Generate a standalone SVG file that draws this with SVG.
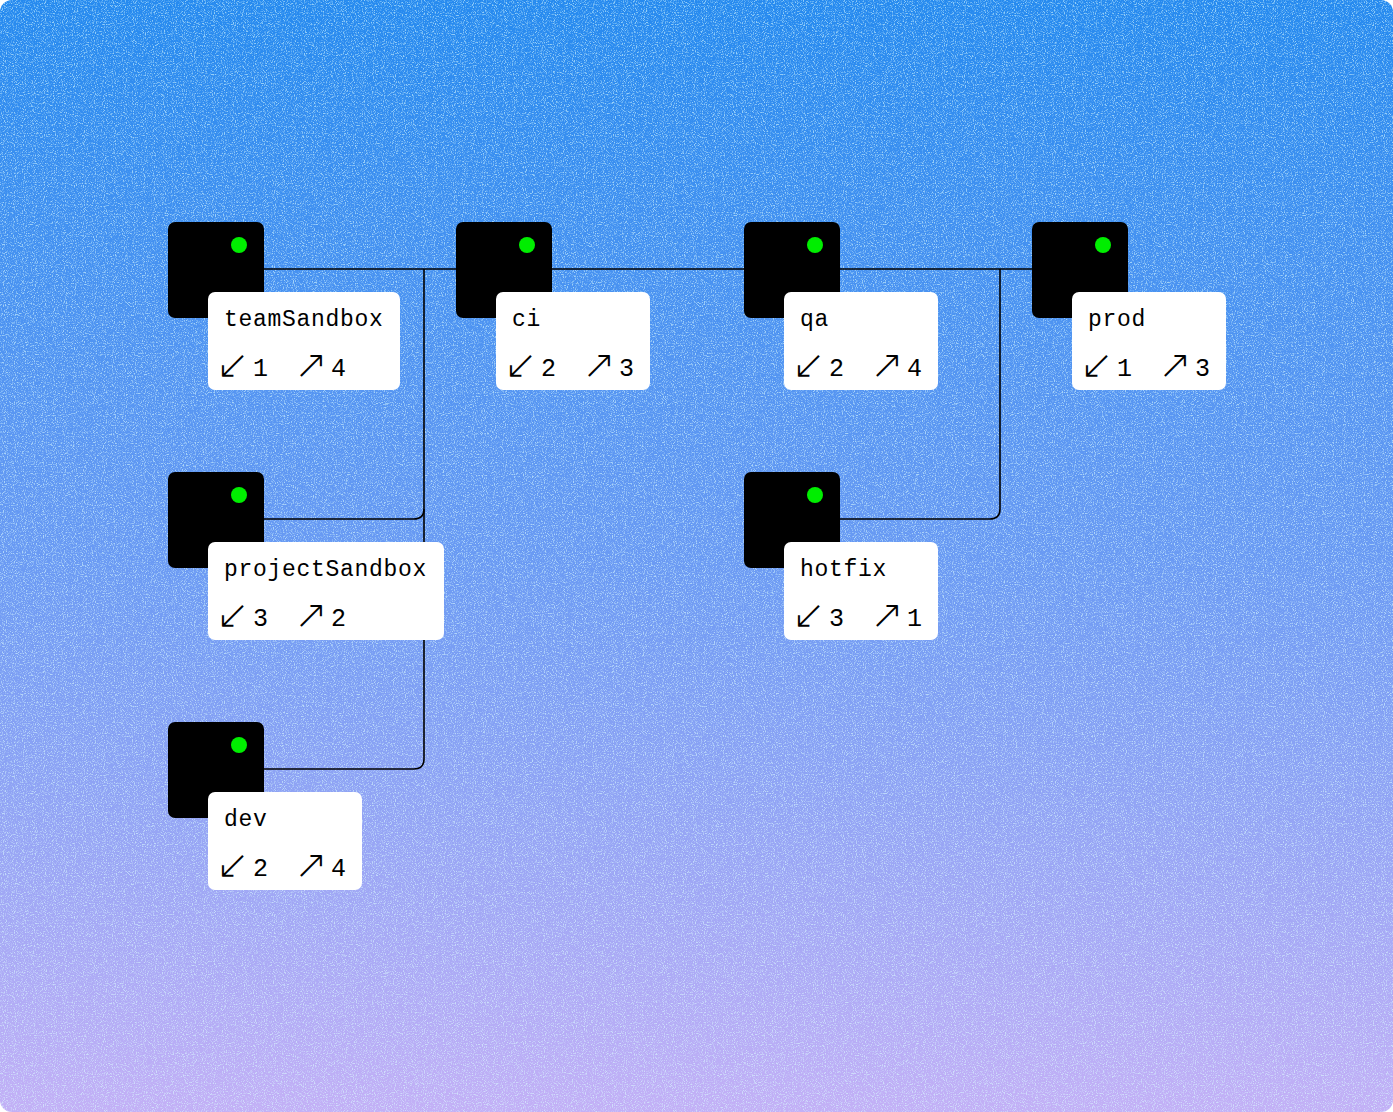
<svg xmlns="http://www.w3.org/2000/svg" width="1393" height="1112" viewBox="0 0 1393 1112">
<defs>
<linearGradient id="bg" x1="0" y1="0" x2="0" y2="1">
<stop offset="0" stop-color="#268aef"/>
<stop offset="0.5" stop-color="#6a9af3"/>
<stop offset="1" stop-color="#c3b0f6"/>
</linearGradient>
<filter id="noise" x="0" y="0" width="100%" height="100%">
<feTurbulence type="fractalNoise" baseFrequency="0.9" numOctaves="2" seed="4" result="t"/>
<feColorMatrix in="t" type="matrix" values="0 0 0 0 0.7  0 0 0 0 0.97  0 0 0 0 1  4 0 0 0 -2.0"/>
</filter>
<clipPath id="clip"><rect x="0" y="0" width="1393" height="1112" rx="12"/></clipPath>
</defs>
<style>
.sq{fill:#000}
.dot{fill:#00ee00}
.card{fill:#fff}
.name{font-family:"Liberation Mono","DejaVu Sans Mono",monospace;font-size:23px;letter-spacing:0.7px;fill:#000}
.num{font-family:"Liberation Mono","DejaVu Sans Mono",monospace;font-size:25px;fill:#000}
.arr{font-family:"DejaVu Sans","Liberation Sans",sans-serif;font-size:40px;font-weight:200;fill:#000}
.conn{fill:none;stroke:#000;stroke-width:1.6}
</style>
<rect x="0" y="0" width="1393" height="1112" fill="#fff"/>
<g clip-path="url(#clip)">
<rect x="0" y="0" width="1393" height="1112" fill="url(#bg)"/>
<rect x="0" y="0" width="1393" height="1112" filter="url(#noise)" opacity="0.6"/>
</g>
<g id="connectors">
<path class="conn" d="M263 269 H1032"/>
<path class="conn" d="M424 269 V759 Q424 769 414 769 H263"/>
<path class="conn" d="M424 509 Q424 519 414 519 H263"/>
<path class="conn" d="M1000 269 V509 Q1000 519 990 519 H839"/>
</g>
<g id="node-teamSandbox" transform="translate(168,222)">
<rect class="sq" width="96" height="96" rx="7"/>
<circle class="dot" cx="71" cy="23" r="8"/>
<rect class="card" x="40" y="70" width="192" height="98" rx="7"/>
<text class="name" x="56" y="104">teamSandbox</text>
<text class="arr" x="48" y="156">↙</text><text class="num" x="85" y="154">1</text>
<text class="arr" x="126" y="156">↗</text><text class="num" x="163" y="154">4</text>
</g>
<g id="node-ci" transform="translate(456,222)">
<rect class="sq" width="96" height="96" rx="7"/>
<circle class="dot" cx="71" cy="23" r="8"/>
<rect class="card" x="40" y="70" width="154" height="98" rx="7"/>
<text class="name" x="56" y="104">ci</text>
<text class="arr" x="48" y="156">↙</text><text class="num" x="85" y="154">2</text>
<text class="arr" x="126" y="156">↗</text><text class="num" x="163" y="154">3</text>
</g>
<g id="node-qa" transform="translate(744,222)">
<rect class="sq" width="96" height="96" rx="7"/>
<circle class="dot" cx="71" cy="23" r="8"/>
<rect class="card" x="40" y="70" width="154" height="98" rx="7"/>
<text class="name" x="56" y="104">qa</text>
<text class="arr" x="48" y="156">↙</text><text class="num" x="85" y="154">2</text>
<text class="arr" x="126" y="156">↗</text><text class="num" x="163" y="154">4</text>
</g>
<g id="node-prod" transform="translate(1032,222)">
<rect class="sq" width="96" height="96" rx="7"/>
<circle class="dot" cx="71" cy="23" r="8"/>
<rect class="card" x="40" y="70" width="154" height="98" rx="7"/>
<text class="name" x="56" y="104">prod</text>
<text class="arr" x="48" y="156">↙</text><text class="num" x="85" y="154">1</text>
<text class="arr" x="126" y="156">↗</text><text class="num" x="163" y="154">3</text>
</g>
<g id="node-projectSandbox" transform="translate(168,472)">
<rect class="sq" width="96" height="96" rx="7"/>
<circle class="dot" cx="71" cy="23" r="8"/>
<rect class="card" x="40" y="70" width="236" height="98" rx="7"/>
<text class="name" x="56" y="104">projectSandbox</text>
<text class="arr" x="48" y="156">↙</text><text class="num" x="85" y="154">3</text>
<text class="arr" x="126" y="156">↗</text><text class="num" x="163" y="154">2</text>
</g>
<g id="node-hotfix" transform="translate(744,472)">
<rect class="sq" width="96" height="96" rx="7"/>
<circle class="dot" cx="71" cy="23" r="8"/>
<rect class="card" x="40" y="70" width="154" height="98" rx="7"/>
<text class="name" x="56" y="104">hotfix</text>
<text class="arr" x="48" y="156">↙</text><text class="num" x="85" y="154">3</text>
<text class="arr" x="126" y="156">↗</text><text class="num" x="163" y="154">1</text>
</g>
<g id="node-dev" transform="translate(168,722)">
<rect class="sq" width="96" height="96" rx="7"/>
<circle class="dot" cx="71" cy="23" r="8"/>
<rect class="card" x="40" y="70" width="154" height="98" rx="7"/>
<text class="name" x="56" y="104">dev</text>
<text class="arr" x="48" y="156">↙</text><text class="num" x="85" y="154">2</text>
<text class="arr" x="126" y="156">↗</text><text class="num" x="163" y="154">4</text>
</g>
</svg>
